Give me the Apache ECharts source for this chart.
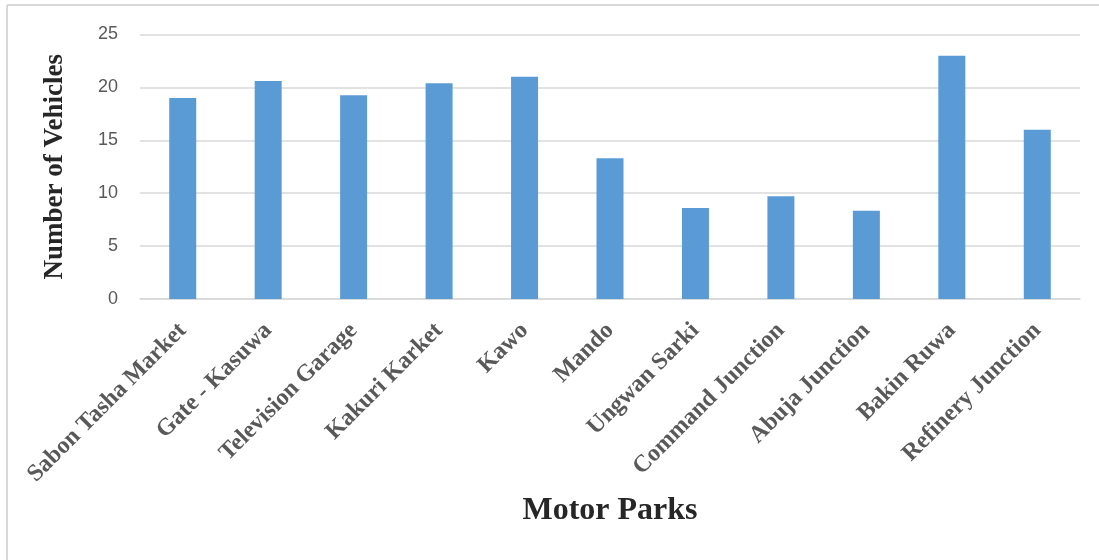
<!DOCTYPE html>
<html>
<head>
<meta charset="utf-8">
<style>html,body{margin:0;padding:0;background:#fff;}#chart{width:1099px;height:560px;}</style>
<script src="https://cdn.jsdelivr.net/npm/echarts@6/dist/echarts.min.js"></script>
</head>
<body>
<div id="chart"></div>
<script>
var categories = ['Sabon Tasha Market','Gate - Kasuwa','Television Garage','Kakuri Karket','Kawo','Mando','Ungwan Sarki','Command Junction','Abuja Junction','Bakin Ruwa','Refinery Junction'];
var vehicles = [19.0, 20.6, 19.25, 20.4, 21.0, 13.3, 8.6, 9.7, 8.35, 23.0, 16.0];
var yTicks = [0, 5, 10, 15, 20, 25];

var chart = echarts.init(document.getElementById('chart'));
chart.setOption({
  animation: false,
  graphic: [
    {type:'line', shape:{x1:7, y1:5, x2:1099, y2:5}, style:{stroke:'#d9d9d9', lineWidth:2}},
    {type:'line', shape:{x1:7, y1:5, x2:7, y2:560}, style:{stroke:'#d9d9d9', lineWidth:2}}
  ],
  grid: {left:140, right:19, top:34.5, bottom:261, containLabel:false},
  xAxis: {
    type:'category',
    data: categories,
    name:'Motor Parks',
    nameLocation:'middle',
    nameGap:196,
    nameTextStyle:{fontFamily:'Liberation Serif', fontWeight:'bold', fontSize:32, color:'#262626'},
    axisLine:{lineStyle:{color:'#d9d9d9', width:1.5}},
    axisTick:{show:false},
    axisLabel:{interval:0, rotate:45, margin:28, fontFamily:'Liberation Serif', fontWeight:'bold', fontSize:24, color:'#595959'}
  },
  yAxis: {
    type:'value',
    min: yTicks[0],
    max: yTicks[yTicks.length-1],
    interval: 5,
    name:'Number of Vehicles',
    nameLocation:'middle',
    nameGap:71,
    nameTextStyle:{fontFamily:'Liberation Serif', fontWeight:'bold', fontSize:27, color:'#262626'},
    axisLine:{show:false},
    axisTick:{show:false},
    axisLabel:{margin:22, fontFamily:'Liberation Sans', fontSize:18, color:'#595959'},
    splitLine:{lineStyle:{color:'#d9d9d9', width:1.5}}
  },
  series: [{
    type:'bar',
    data: vehicles,
    barWidth:27,
    itemStyle:{color:'#5b9bd5'}
  }]
});
</script>
</body>
</html>
